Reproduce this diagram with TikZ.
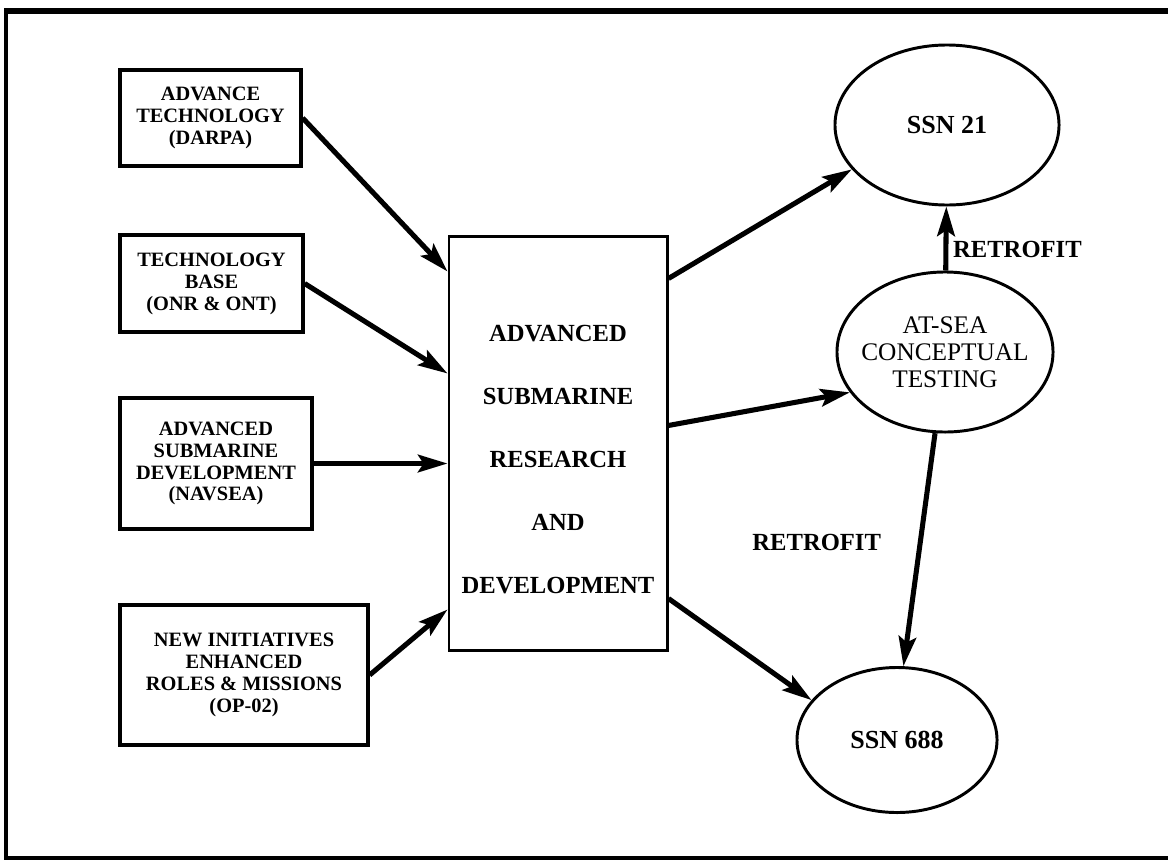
\documentclass[tikz,border=0pt]{standalone}
\usepackage{fontspec}
\setmainfont{Liberation Serif}
\usepackage{tikz}
\usetikzlibrary{calc, shapes, arrows.meta}
\tikzstyle{block} = [draw, rectangle, line width=2.3pt, align=center,
    font=\fontsize{14.5}{15.6}\selectfont\bfseries]
\tikzstyle{oval} = [draw, ellipse, line width=2.1pt, inner sep=0pt, align=center]
\tikzstyle{flow} = [-{Stealth[length=21pt, width=12.5pt, inset=4pt]}, line width=3.6pt]
\tikzstyle{note} = [font=\fontsize{17.5}{20}\selectfont\bfseries]

\begin{document}
\begin{tikzpicture}[x=0.025cm, y=-0.025cm]
            \useasboundingbox (0,0) rectangle (1168,861);
            \draw[line width=4.3pt] (1168,11) -- (4,11);
            \draw[line width=3.4pt] (6,9) -- (6,858) -- (1168,858);

            \node[block, name=darpa, minimum width=4.525cm, minimum height=2.4cm] at (210.5, 118) {ADVANCE\\TECHNOLOGY\\(DARPA)};
            \node[block, name=onr, minimum width=4.575cm, minimum height=2.425cm] at (211.5, 283.5) {TECHNOLOGY\\BASE\\(ONR \& ONT)};
            \node[block, name=navsea, minimum width=4.8cm, minimum height=3.275cm] at (216, 463.5) {ADVANCED\\SUBMARINE\\DEVELOPMENT\\(NAVSEA)};
            \node[block, name=newinit, minimum width=6.2cm, minimum height=3.5cm] at (244, 675) {NEW INITIATIVES\\ENHANCED\\ROLES \& MISSIONS\\(OP-02)};

            % strut on the first line pushes the text a little below the middle
            \node[block, name=asrd, line width=2.1pt, minimum width=5.45cm, minimum height=10.325cm,
                font=\fontsize{17.5}{44.8}\selectfont\bfseries] at (558, 443.5) {\rule{0pt}{35pt}ADVANCED\\SUBMARINE\\RESEARCH\\AND\\DEVELOPMENT};

            \node[oval, name=ssn21, minimum width=5.6cm, minimum height=4cm,
                font=\fontsize{18.5}{20}\selectfont\bfseries] at (947, 125) {SSN 21};
            \node[oval, name=atsea, minimum width=5.4cm, minimum height=4cm, inner xsep=-10pt,
                font=\fontsize{18}{19.2}\selectfont] at (945, 352) {AT-SEA\\CONCEPTUAL\\TESTING};
            \node[oval, name=ssn688, minimum width=5cm, minimum height=3.625cm,
                font=\fontsize{18.5}{20}\selectfont\bfseries] at (897, 740) {SSN 688};

            \draw[flow] (darpa.east) -- ($(asrd.north west)+(0,36)$);
            \draw[flow] (onr.east) -- ($(asrd.north west)+(0,138)$);
            \draw[flow] (navsea.east) -- (asrd.west |- navsea.east);
            \draw[flow] (newinit.east) -- ($(asrd.south west)+(0,-42)$);

            \draw[flow] ($(asrd.north east)+(0,43)$) -- (ssn21.205);
            \draw[flow] ($(asrd.north east)+(0,190)$) -- (atsea.203);
            \draw[flow] ($(asrd.south east)+(0,-53)$) -- (ssn688.155);

            \draw[flow] (atsea) -- node[note, right, pos=0.33] {RETROFIT} (ssn21);
            \draw[flow] (atsea.263) -- node[note, left, pos=0.47, xshift=-0.8cm] {RETROFIT} (ssn688.85);
        \end{tikzpicture}
\end{document}
